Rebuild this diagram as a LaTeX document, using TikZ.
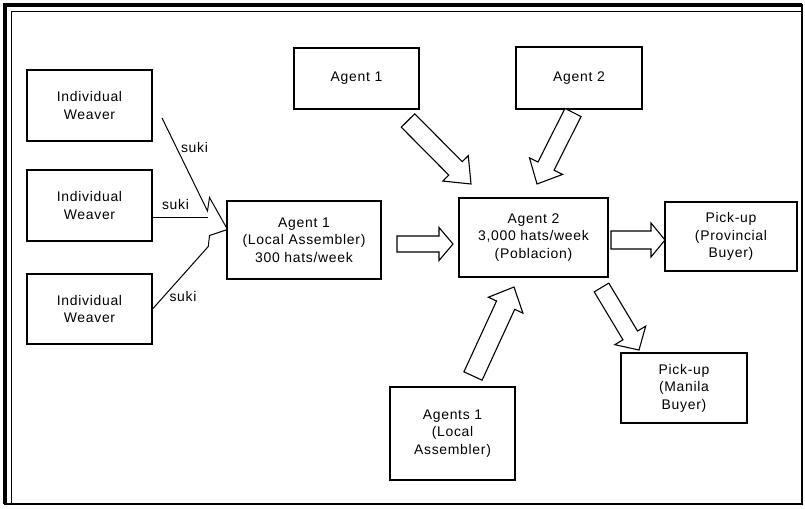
\documentclass[tikz,border=0pt]{standalone}
\usepackage{fontspec}
\setmainfont{Liberation Sans}[LetterSpace=5]
\usetikzlibrary{calc}
\tikzset{
  box/.style={draw, line width=1.1bp, inner sep=0pt, align=center,
    font=\fontsize{14}{17.5}\selectfont},
  lbl/.style={inner sep=0pt, font=\fontsize{14}{17}\selectfont},
  thin/.style={line width=1bp},
  blockarr/.style={draw, fill=white, line width=1.1bp, line join=miter},
}
\newcommand\barrow[5]{% tail, tip, shaft half width, head half width, head length
  \coordinate (bn) at ($(#2)!#5!(#1)$);
  \draw[blockarr] ($(#1)!#3!90:(#2)$) -- ($(bn)!#3!90:(#2)$) -- ($(bn)!#4!90:(#2)$)
    -- (#2) -- ($(bn)!#4!-90:(#2)$) -- ($(bn)!#3!-90:(#2)$) -- ($(#1)!#3!-90:(#2)$) -- cycle;
}
\begin{document}
\begin{tikzpicture}[x=1bp,y=-1bp]
\useasboundingbox (0,0) rectangle (805,509);
\fill[white] (0,0) rectangle (805,509);
% frame
\draw[line width=1.6bp] (5,5) rectangle (802,504);
\draw[line width=3.5bp] (5,504) -- (5,5) -- (802,5);
\draw[line width=0.8bp] (11,504) -- (11,11) -- (802,11);

% boxes
\node[box, minimum width=125bp, minimum height=71bp] (w1) at (89.5,105.5) {Individual\\Weaver};
\node[box, minimum width=125bp, minimum height=71bp] (w2) at (89.5,205.5) {Individual\\Weaver};
\node[box, minimum width=125bp, minimum height=70bp] (w3) at (89.5,309) {Individual\\Weaver};
\node[box, minimum width=154bp, minimum height=78bp] (la) at (304,240) {Agent 1\\(Local Assembler)\\300 hats/week};
\node[box, minimum width=125bp, minimum height=61bp] (a1t) at (356.5,78.5) {Agent 1};
\node[box, minimum width=126bp, minimum height=62bp] (a2t) at (579,78) {Agent 2};
\node[box, minimum width=149bp, minimum height=79bp] (a2) at (533.5,237.5) {Agent 2\\3,000 hats/week\\(Poblacion)};
\node[box, minimum width=132bp, minimum height=69bp] (prov) at (731,236.5) {Pick-up\\(Provincial\\Buyer)};
\node[box, minimum width=126bp, minimum height=70bp] (man) at (684,388) {Pick-up\\(Manila\\Buyer)};
\node[box, minimum width=125bp, minimum height=93bp] (a1b) at (452.5,433.5) {Agents 1\\(Local\\Assembler)};

% suki connectors
\coordinate (s1) at (162,118);
\coordinate (s2) at (208,218);
\coordinate (join) at (227.5,229.5);
\draw[thin] (s1) -- (207.5,211) -- (209.5,197.5) -- (join);
\draw[thin] (w2.east |- s2) -- (s2);
\draw[thin] (w3.east) -- (208.3,246.5) -- (209.5,235.5) -- (join);
\node[lbl] (k1) at (194.5,148) {suki};
\node[lbl] (k2) at (175.5,205) {suki};
\node[lbl] (k3) at (183,297) {suki};

% block arrows
\coordinate (ta) at (397,244);   \coordinate (ha) at (453,244);
\coordinate (tb) at (611,240);   \coordinate (hb) at (665,240);
\coordinate (tc) at (408,120.5); \coordinate (hc) at (471,184);
\coordinate (td) at (573,112.5); \coordinate (hd) at (537,184);
\coordinate (te) at (473,376);   \coordinate (he) at (514,287);
\coordinate (tf) at (601.5,287.5); \coordinate (hf) at (639,350);
\barrow{ta}{ha}{8bp}{16.5bp}{14bp}
\barrow{tb}{hb}{9bp}{17bp}{14bp}
\barrow{tc}{hc}{9.5bp}{18bp}{22bp}
\barrow{td}{hd}{9bp}{18.5bp}{20bp}
\barrow{te}{he}{10bp}{19bp}{20bp}
\barrow{tf}{hf}{8.5bp}{18bp}{17bp}
\end{tikzpicture}
\end{document}
